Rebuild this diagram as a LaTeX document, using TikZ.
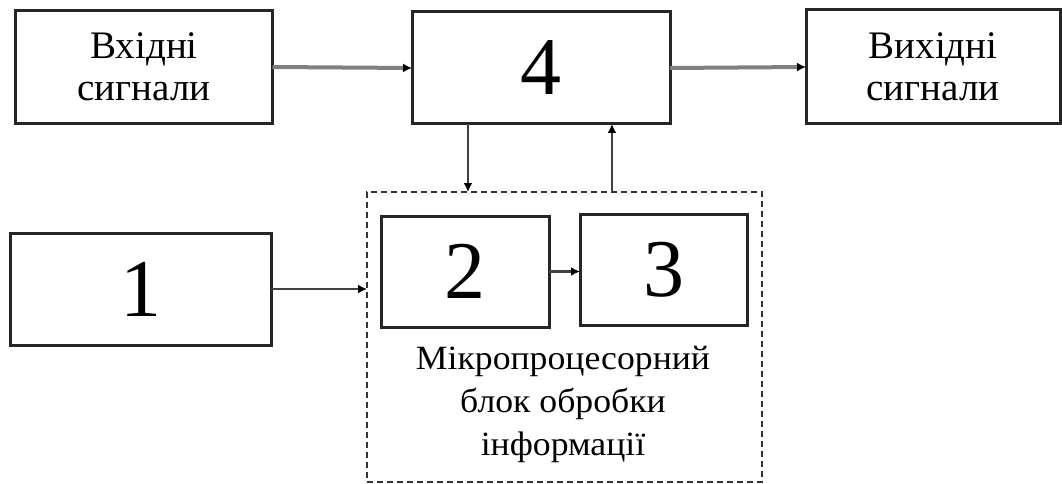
\documentclass[tikz,border=0pt]{standalone}
\usepackage{fontspec}
\setmainfont{Liberation Serif}
\usetikzlibrary{arrows.meta,calc}
\begin{document}
\begin{tikzpicture}[x=1pt,y=-1pt,
  blk/.style={draw=black!85,line width=3pt,fill=white,inner sep=0pt,outer sep=0pt,align=center},
  txt/.style={font=\fontsize{39}{42}\selectfont},
  num/.style={font=\fontsize{82}{84}\selectfont},
  thickarr/.style={draw=black!50,line width=4pt,-{Latex[length=9pt,width=9pt,color=black]}},
  thinarr/.style={draw=black!75,line width=2.5pt,-{Latex[length=9pt,width=9pt,color=black]}},
  grp/.style={draw=black!80,line width=2pt,dash pattern=on 6pt off 4pt,inner sep=0pt,outer sep=0pt}]
\useasboundingbox (0,0) rectangle (1062,484);
\node[blk,txt,minimum width=257pt,minimum height=113pt] (in) at (144,67) {Вхідні\\сигнали};
\node[blk,num,minimum width=258pt,minimum height=112pt] (four) at (541,68) {4};
\node[blk,txt,minimum width=254pt,minimum height=114pt] (out) at (933,67) {Вихідні\\сигнали};
\node[blk,num,minimum width=261pt,minimum height=112pt] (one) at (140.5,289) {1};
\node[grp,minimum width=395pt,minimum height=290pt] (mp) at (564.5,337) {};
\node[blk,num,minimum width=168pt,minimum height=111pt] (two) at (465,271.5) {2};
\node[blk,num,minimum width=167pt,minimum height=111pt] (three) at (663.5,269.5) {3};
\node[align=center,font=\fontsize{34}{43}\selectfont] (cap) at (563,404) {\scalebox{1.05}[1]{Мікропроцесорний}\\\scalebox{1.05}[1]{блок обробки}\\\scalebox{1.05}[1]{інформації}};
\coordinate (dn) at ($(four.south west)!0.217!(four.south east)$);
\coordinate (up) at ($(four.south west)!0.775!(four.south east)$);
\draw[thickarr] (in.east) -- (four.west);
\draw[thickarr] (four.east) -- (out.west);
\draw[thinarr] (dn) -- (dn |- mp.north);
\draw[thinarr] (up |- mp.north) -- (up);
\draw[thinarr] (one.east) -- (one.east -| mp.west);
\draw[thinarr] (two.east) -- (two.east -| three.west);
\end{tikzpicture}
\end{document}
